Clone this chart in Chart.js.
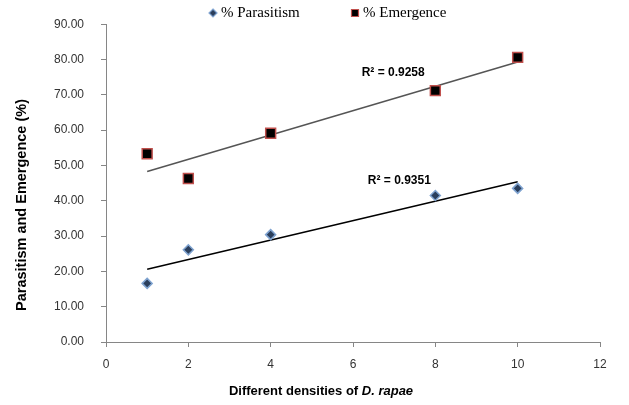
<!DOCTYPE html>
<html lang="en">
<head>
    <meta charset="UTF-8">
    <title>Parasitism and Emergence</title>
    <script src="https://cdn.jsdelivr.net/npm/chart.js"></script>
    <style>
        body { margin: 0; background: #fff; }
        #wrap { width: 629px; height: 405px; }
    </style>
</head>
<body>
    <div id="wrap"><canvas id="chart" width="629" height="405"></canvas></div>

    <script>
        // values
        const densities = [1, 2, 4, 8, 10];
        const parasitism = [16.6, 26.1, 30.4, 41.5, 43.5];
        const emergence = [53.3, 46.3, 59.1, 71.2, 80.6];

        // trendline end points (x = 1 and x = 10)
        const trendX = [1, 10];
        const parasitismTrend = [20.6, 45.4];
        const emergenceTrend = [48.3, 79.3];

        const r2Labels = ['R² = 0.9258', 'R² = 0.9351'];
        const r2Pos = [[6.21, 76.4], [6.36, 45.8]];

        const yTicks = [0, 10, 20, 30, 40, 50, 60, 70, 80, 90];
        const xTicks = [0, 2, 4, 6, 8, 10, 12];

        const toPoints = (xs, ys) => xs.map((x, i) => ({ x: x, y: ys[i] }));

        const axisFont = { family: 'Liberation Sans', size: 12 };

        const r2Plugin = {
            id: 'r2',
            afterDatasetsDraw(chart) {
                const ctx = chart.ctx;
                const xs = chart.scales.x, ys = chart.scales.y;
                ctx.save();
                ctx.font = 'bold 12px "Liberation Sans"';
                ctx.fillStyle = '#000';
                ctx.textBaseline = 'middle';
                r2Labels.forEach((t, i) => {
                    ctx.fillText(t, xs.getPixelForValue(r2Pos[i][0]), ys.getPixelForValue(r2Pos[i][1]));
                });
                ctx.restore();
            }
        };

        // legend drawn by hand so it can sit tight above the plot
        const legendPlugin = {
            id: 'topLegend',
            afterDraw(chart) {
                const ctx = chart.ctx;
                const items = [[0, 213], [1, 355]];
                ctx.save();
                ctx.font = '15px "Liberation Serif"';
                ctx.textBaseline = 'middle';
                items.forEach(([i, x]) => {
                    const ds = chart.data.datasets[i];
                    const y = 13;
                    ctx.fillStyle = ds.backgroundColor;
                    ctx.strokeStyle = ds.borderColor;
                    ctx.lineWidth = 1.2;
                    ctx.beginPath();
                    if (ds.pointStyle === 'rectRot') {
                        ctx.moveTo(x, y - 4); ctx.lineTo(x + 4, y); ctx.lineTo(x, y + 4); ctx.lineTo(x - 4, y);
                    } else {
                        ctx.rect(x - 3.5, y - 3.5, 7, 7);
                    }
                    ctx.closePath();
                    ctx.fill();
                    ctx.stroke();
                    ctx.fillStyle = '#000';
                    ctx.fillText(ds.label, x + 8, y);
                });
                ctx.restore();
            }
        };

        // axis titles (x title has an italic species name)
        const titlesPlugin = {
            id: 'titles',
            afterDraw(chart) {
                const ctx = chart.ctx;
                ctx.save();
                ctx.fillStyle = '#000';
                ctx.textBaseline = 'middle';
                const a = 'Different densities of ';
                const b = 'D. rapae';
                const fa = 'bold 13px "Liberation Sans"';
                const fb = 'italic bold 13px "Liberation Sans"';
                ctx.font = fa;
                const wa = ctx.measureText(a).width;
                ctx.font = fb;
                const wb = ctx.measureText(b).width;
                const x = 321 - (wa + wb) / 2;
                ctx.font = fa;
                ctx.fillText(a, x, 391);
                ctx.font = fb;
                ctx.fillText(b, x + wa, 391);

                ctx.translate(22, 205);
                ctx.rotate(-Math.PI / 2);
                ctx.textAlign = 'center';
                ctx.font = 'bold 14.5px "Liberation Sans"';
                ctx.fillText('Parasitism and Emergence (%)', 0, 0);
                ctx.restore();
            }
        };

        const ctx = document.getElementById('chart').getContext('2d');
        new Chart(ctx, {
            type: 'scatter',
            data: {
                datasets: [{
                    label: '% Parasitism',
                    data: toPoints(densities, parasitism),
                    pointStyle: 'rectRot',
                    pointRadius: 5,
                    backgroundColor: '#2b3f5c',
                    borderColor: '#7fa3d0',
                    borderWidth: 1.5
                }, {
                    label: '% Emergence',
                    data: toPoints(densities, emergence),
                    pointStyle: 'rect',
                    pointRadius: 7,
                    backgroundColor: '#000',
                    borderColor: '#c0504d',
                    borderWidth: 1.5
                }, {
                    label: 'trend1',
                    type: 'line',
                    data: toPoints(trendX, parasitismTrend),
                    borderColor: '#000',
                    borderWidth: 1.5,
                    pointRadius: 0
                }, {
                    label: 'trend2',
                    type: 'line',
                    data: toPoints(trendX, emergenceTrend),
                    borderColor: '#555',
                    borderWidth: 1.5,
                    pointRadius: 0
                }]
            },
            options: {
                responsive: false,
                animation: false,
                layout: { padding: { top: 19, right: 29, left: 13, bottom: 0 } },
                plugins: {
                    tooltip: { enabled: false },
                    legend: { display: false }
                },
                scales: {
                    x: {
                        type: 'linear',
                        min: 0,
                        max: 12,
                        afterBuildTicks: s => { s.ticks = xTicks.map(v => ({ value: v })); },
                        afterFit: s => { s.height = 63; },
                        border: { color: '#868686' },
                        grid: { drawOnChartArea: false, tickLength: 5, color: '#868686' },
                        ticks: { color: '#333', font: axisFont, padding: 10 }
                    },
                    y: {
                        min: 0,
                        max: 90,
                        afterBuildTicks: s => { s.ticks = yTicks.map(v => ({ value: v })); },
                        afterFit: s => { s.width = 93; },
                        border: { color: '#868686' },
                        grid: { drawOnChartArea: false, tickLength: 5, color: '#868686' },
                        ticks: { color: '#333', font: axisFont, padding: 17, callback: v => v.toFixed(2) }
                    }
                }
            },
            plugins: [r2Plugin, legendPlugin, titlesPlugin]
        });
    </script>
</body>
</html>
